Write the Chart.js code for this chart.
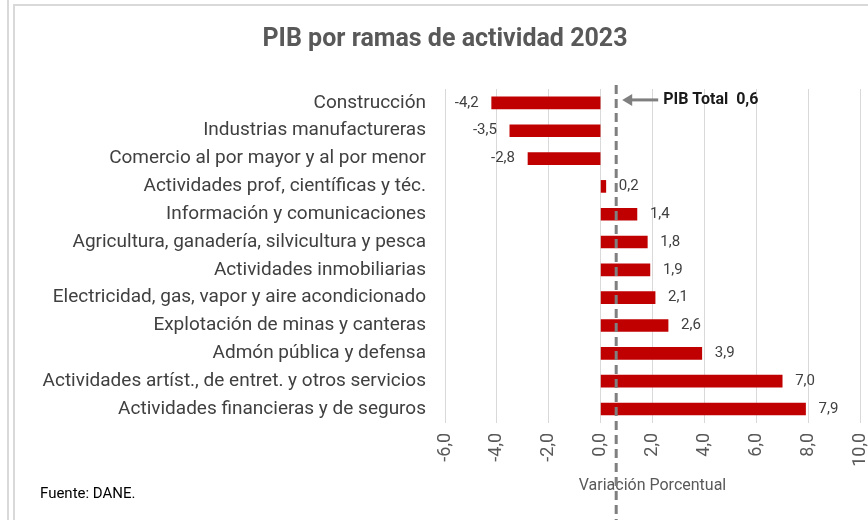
<!DOCTYPE html>
<html>
<head>
<meta charset="utf-8">
<script src="https://cdn.jsdelivr.net/npm/chart.js@4.4.1/dist/chart.umd.min.js"></script>
<style>
  html, body { margin: 0; padding: 0; background: #fff; }
  .wrap { position: relative; width: 868px; height: 520px; overflow: hidden; }
  .side { position: absolute; left: 7px; top: 0; width: 2px; height: 520px; background: #d9d9d9; }
  .box { position: absolute; left: 13px; top: 4px; width: 900px; height: 600px; border: 2px solid #d9d9d9; }
  canvas { position: absolute; left: 0; top: 0; }
</style>
</head>
<body>
<div class="wrap">
  <div class="side"></div>
  <div class="box"></div>
  <canvas id="pibChart" width="868" height="520"></canvas>
</div>
<script>
// datos
const categories = [
    'Construcción',
    'Industrias manufactureras',
    'Comercio al por mayor y al por menor',
    'Actividades prof, científicas y téc.',
    'Información y comunicaciones',
    'Agricultura, ganadería, silvicultura y pesca',
    'Actividades inmobiliarias',
    'Electricidad, gas, vapor y aire acondicionado',
    'Explotación de minas y canteras',
    'Admón pública y defensa',
    'Actividades artíst., de entret. y otros servicios',
    'Actividades financieras y de seguros'
];
const values = [-4.2, -3.5, -2.8, 0.2, 1.4, 1.8, 1.9, 2.1, 2.6, 3.9, 7.0, 7.9];
const pibTotal = 0.6;
const xMin = -6;
const xMax = 10;
const xStep = 2;

const fmt = v => v.toFixed(1).replace('.', ',');
const FONT = 'Roboto, "Liberation Sans", sans-serif';

// etiquetas, línea del PIB total y título
const extras = {
    id: 'extras',
    afterDatasetsDraw(chart) {
        const { ctx, scales: { x }, chartArea } = chart;
        const meta = chart.getDatasetMeta(0);
        ctx.save();
        ctx.font = '15px ' + FONT;
        ctx.fillStyle = '#404040';
        ctx.textBaseline = 'middle';
        meta.data.forEach((bar, i) => {
            const v = values[i];
            if (v < 0) {
                ctx.textAlign = 'right';
                ctx.fillText(fmt(v), bar.x - 13, bar.y);
            } else {
                ctx.textAlign = 'left';
                ctx.fillText(fmt(v), bar.x + 13, bar.y);
            }
        });

        // línea punteada del PIB total
        const px = x.getPixelForValue(pibTotal);
        ctx.strokeStyle = '#7f7f7f';
        ctx.lineWidth = 3;
        ctx.setLineDash([9, 5]);
        ctx.beginPath();
        ctx.moveTo(px, chartArea.top - 4);
        ctx.lineTo(px, 520);
        ctx.stroke();
        ctx.setLineDash([]);

        // flecha
        const ay = meta.data[0].y - 3;
        ctx.beginPath();
        ctx.moveTo(px + 42, ay);
        ctx.lineTo(px + 14, ay);
        ctx.stroke();
        ctx.fillStyle = '#7f7f7f';
        ctx.beginPath();
        ctx.moveTo(px + 6, ay);
        ctx.lineTo(px + 16, ay - 6);
        ctx.lineTo(px + 16, ay + 6);
        ctx.closePath();
        ctx.fill();

        ctx.fillStyle = '#1a1a1a';
        ctx.font = 'bold 16px ' + FONT;
        ctx.textAlign = 'left';
        ctx.fillText('PIB Total  ' + fmt(pibTotal), px + 47, ay);

        // título
        ctx.fillStyle = '#595959';
        ctx.font = 'bold 25px ' + FONT;
        ctx.textAlign = 'center';
        ctx.fillText('PIB por ramas de actividad 2023', 445, 40);

        // fuente
        ctx.fillStyle = '#000000';
        ctx.font = '15px ' + FONT;
        ctx.textAlign = 'left';
        ctx.fillText('Fuente: DANE.', 40, 494);
        ctx.restore();
    }
};

new Chart(document.getElementById('pibChart'), {
    type: 'bar',
    data: {
        labels: categories,
        datasets: [{
            data: values,
            backgroundColor: '#c00000',
            barThickness: 12
        }]
    },
    options: {
        indexAxis: 'y',
        responsive: false,
        animation: false,
        layout: { padding: { top: 89, right: 8, left: 0, bottom: 24 } },
        plugins: {
            legend: { display: false },
            tooltip: { enabled: false }
        },
        scales: {
            x: {
                min: xMin,
                max: xMax,
                ticks: {
                    stepSize: xStep,
                    maxRotation: 90,
                    minRotation: 90,
                    padding: 10,
                    color: '#595959',
                    font: { size: 18, family: FONT },
                    callback: v => fmt(v)
                },
                grid: { color: '#d9d9d9', drawTicks: false },
                border: { display: false },
                title: {
                    display: true,
                    text: 'Variación Porcentual',
                    color: '#595959',
                    font: { size: 16, family: FONT },
                    padding: { top: 0, bottom: 0 }
                },
                afterFit(scale) {
                    scale.paddingLeft = 0;
                    scale.paddingRight = 0;
                }
            },
            y: {
                ticks: {
                    color: '#404040',
                    padding: 19,
                    font: { size: 19, family: FONT }
                },
                grid: { display: false, drawTicks: false },
                border: { display: false },
                afterFit(scale) { scale.width = 445; }
            }
        }
    },
    plugins: [extras]
});
</script>
</body>
</html>
